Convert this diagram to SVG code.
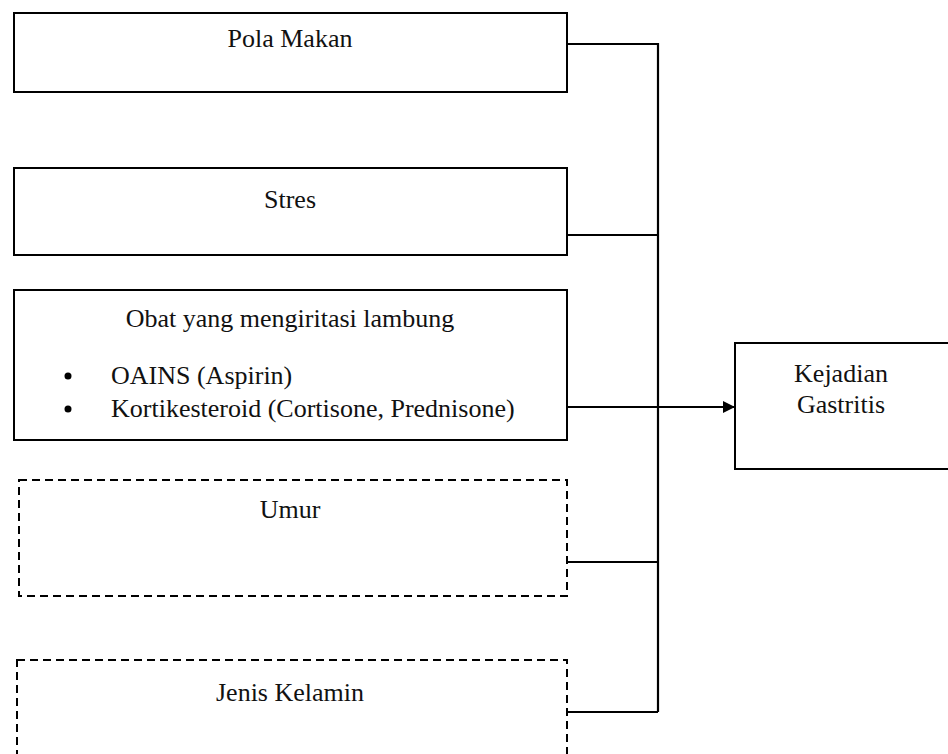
<svg xmlns="http://www.w3.org/2000/svg" width="948" height="754" viewBox="0 0 948 754">
<style>
.box{fill:#fff;stroke:#000;stroke-width:2}
.dash{fill:#fff;stroke:#000;stroke-width:2;stroke-dasharray:8 5}
.ln{fill:none;stroke:#000;stroke-width:2.2}
text{font-family:"Liberation Serif","Times New Roman",serif;font-size:26px;fill:#111}
.c{text-anchor:middle}
</style>
<defs>
<marker id="arr" markerWidth="12" markerHeight="12" refX="11" refY="6" orient="auto" markerUnits="userSpaceOnUse">
<path d="M0,0 L12,6 L0,12 Z" fill="#000"/>
</marker>
</defs>
<rect width="948" height="754" fill="#fff"/>
<g id="connectors">
<path class="ln" d="M567,44 H658 V712"/>
<path class="ln" d="M567,235 H658"/>
<path class="ln" d="M567,562 H658"/>
<path class="ln" d="M567,712 H658"/>
<path class="ln" d="M567,407 H734" marker-end="url(#arr)"/>
</g>
<g id="pola-makan">
<rect class="box" x="14" y="13" width="553" height="79"/>
<text class="c" x="290" y="47">Pola Makan</text>
</g>
<g id="stres">
<rect class="box" x="14" y="168" width="553" height="87"/>
<text class="c" x="290" y="208">Stres</text>
</g>
<g id="obat">
<rect class="box" x="14" y="290" width="553" height="150"/>
<text class="c" x="290" y="327">Obat yang mengiritasi lambung</text>
<circle cx="68" cy="376" r="3.5" fill="#000"/>
<text x="111" y="384">OAINS (Aspirin)</text>
<circle cx="68" cy="409" r="3.5" fill="#000"/>
<text x="111" y="417">Kortikesteroid (Cortisone, Prednisone)</text>
</g>
<g id="kejadian">
<rect class="box" x="735" y="343" width="230" height="126"/>
<text class="c" x="841" y="382">Kejadian</text>
<text class="c" x="841" y="413">Gastritis</text>
</g>
<g id="umur">
<rect class="dash" x="19" y="480" width="548" height="116"/>
<text class="c" x="290" y="518">Umur</text>
</g>
<g id="jenis-kelamin">
<rect class="dash" x="17" y="660" width="550" height="110"/>
<text class="c" x="290" y="701">Jenis Kelamin</text>
</g>
</svg>
